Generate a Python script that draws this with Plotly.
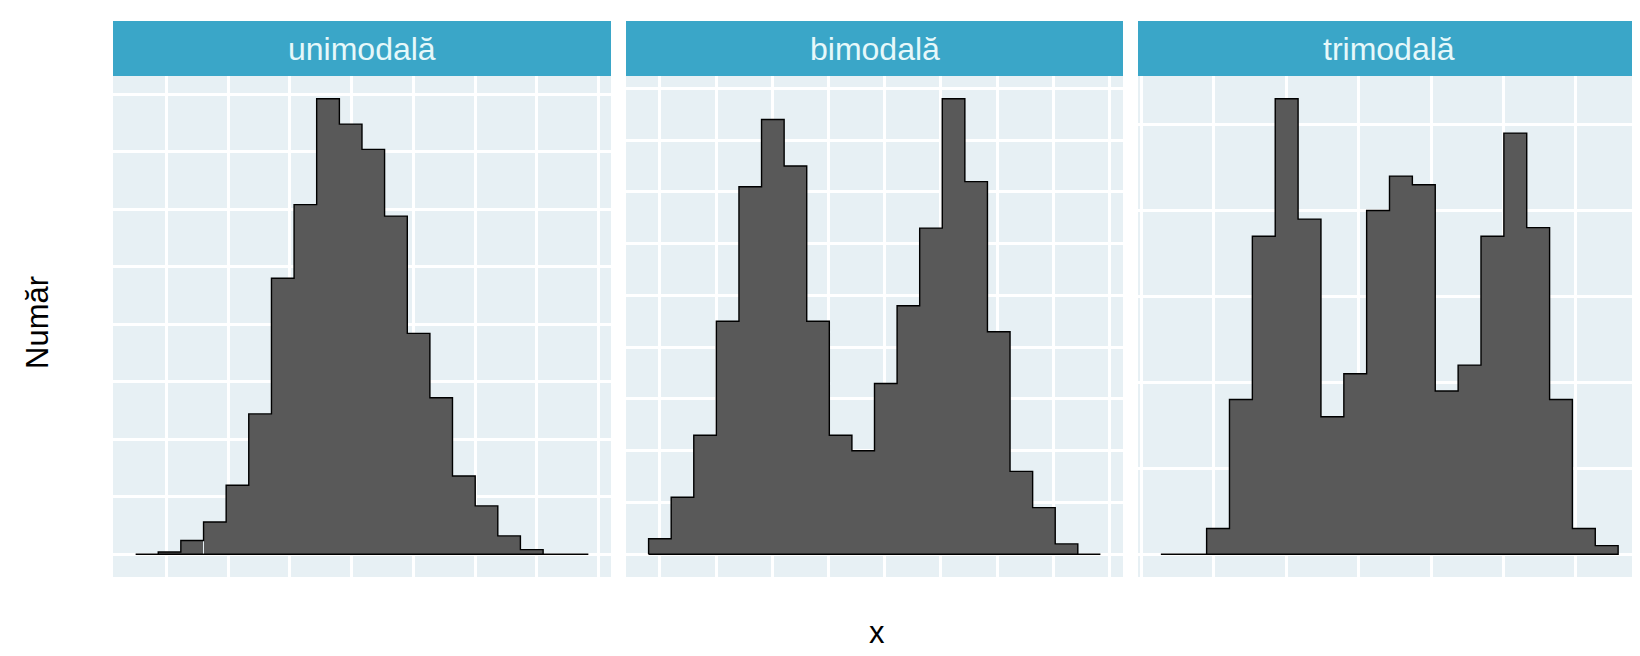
import plotly.graph_objects as go
from plotly.subplots import make_subplots

# facet titles
panels = ["unimodală", "bimodală", "trimodală"]

# bin centres and counts (20 bins per panel)
uni_x = [-1.658, -1.475, -1.292, -1.108, -0.925, -0.742, -0.558, -0.375, -0.192, -0.008,
         0.175, 0.358, 0.542, 0.725, 0.908, 1.092, 1.275, 1.458, 1.642, 1.825]
uni_n = [0, 1, 6, 14, 30, 61, 120, 152, 198, 187, 176, 147, 96, 68, 34, 21, 8, 2, 0, 0]
uni_bw = 0.1833

bi_x = [0.001, 0.403, 0.805, 1.207, 1.609, 2.011, 2.413, 2.815, 3.217, 3.619,
        4.021, 4.423, 4.825, 5.227, 5.629, 6.031, 6.433, 6.835, 7.237, 7.639]
bi_n = [3, 11, 23, 45, 71, 84, 75, 45, 23, 20, 33, 48, 63, 88, 72, 43, 16, 9, 2, 0]
bi_bw = 0.402

tri_x = [-0.576, -0.260, 0.056, 0.372, 0.688, 1.004, 1.320, 1.636, 1.952, 2.267,
         2.583, 2.899, 3.215, 3.531, 3.847, 4.163, 4.479, 4.795, 5.110, 5.426]
tri_n = [0, 0, 3, 18, 37, 53, 39, 16, 21, 40, 44, 43, 19, 22, 37, 49, 38, 18, 3, 1]
tri_bw = 0.3159

data = [(uni_x, uni_n, uni_bw), (bi_x, bi_n, bi_bw), (tri_x, tri_n, tri_bw)]
# grid spacing per panel (x, y)
grid = [(0.5, 25), (1, 10), (1, 10)]

W, H = 1640, 656
x_dom = [(105 / W, 603 / W), (618 / W, 1115 / W), (1130 / W, 1633 / W)]
y_dom = (1 - 569 / H, 1 - 68 / H)
strip_top = 1 - 13 / H

BG = "#E7F0F4"
STRIP = "#3AA6C8"

fig = make_subplots(rows=1, cols=3)

for i, (xs, ns, bw) in enumerate(data):
    col = i + 1
    fig.add_trace(go.Bar(x=xs, y=ns, width=bw, marker=dict(color="#595959", line=dict(width=0)),
                         showlegend=False), row=1, col=col)
    # outline of the histogram as one step path
    edges = [c - bw / 2 for c in xs] + [xs[-1] + bw / 2]
    ox, oy = [edges[0]], [0]
    for k, n in enumerate(ns):
        ox += [edges[k], edges[k + 1]]
        oy += [n, n]
    ox += [edges[-1], edges[0]]
    oy += [0, 0]
    fig.add_trace(go.Scatter(x=ox, y=oy, mode="lines", line=dict(color="black", width=1.4),
                             showlegend=False, hoverinfo="skip"), row=1, col=col)

    span = edges[-1] - edges[0]
    ymax = max(ns)
    gx, gy = grid[i]
    fig.update_xaxes(domain=list(x_dom[i]), range=[edges[0] - 0.05 * span, edges[-1] + 0.05 * span],
                     dtick=gx, tick0=0, showticklabels=False, ticks="", showgrid=True,
                     gridcolor="white", gridwidth=2.8, zeroline=False, showline=False,
                     row=1, col=col)
    fig.update_yaxes(domain=list(y_dom), range=[-0.05 * ymax, 1.05 * ymax],
                     dtick=gy, tick0=0, showticklabels=False, ticks="", showgrid=True,
                     gridcolor="white", gridwidth=2.8, zeroline=False, showline=False,
                     row=1, col=col)

    # facet strip
    fig.add_shape(type="rect", xref="paper", yref="paper",
                  x0=x_dom[i][0], x1=x_dom[i][1], y0=y_dom[1], y1=strip_top,
                  fillcolor=STRIP, line=dict(width=0), layer="below")
    fig.add_annotation(text=panels[i], xref="paper", yref="paper",
                       x=(x_dom[i][0] + x_dom[i][1]) / 2, y=(y_dom[1] + strip_top) / 2,
                       showarrow=False, font=dict(size=32, color="#E6F8FA"),
                       xanchor="center", yanchor="middle")

fig.add_annotation(text="x", xref="paper", yref="paper", x=(105 + 1633) / 2 / W, y=1 - 624 / H,
                   showarrow=False, font=dict(size=31, color="black"), xanchor="center", yanchor="middle")
fig.add_annotation(text="Număr", xref="paper", yref="paper", x=29 / W, y=1 - 314 / H,
                   showarrow=False, textangle=-90, font=dict(size=31, color="black"),
                   xanchor="center", yanchor="middle")

fig.update_layout(
    width=W, height=H,
    margin=dict(l=0, r=0, t=0, b=0),
    plot_bgcolor=BG, paper_bgcolor="white",
    font=dict(family="Liberation Sans, Arial, sans-serif"),
    bargap=0, barmode="overlay",
)

fig.write_html("out.html")
